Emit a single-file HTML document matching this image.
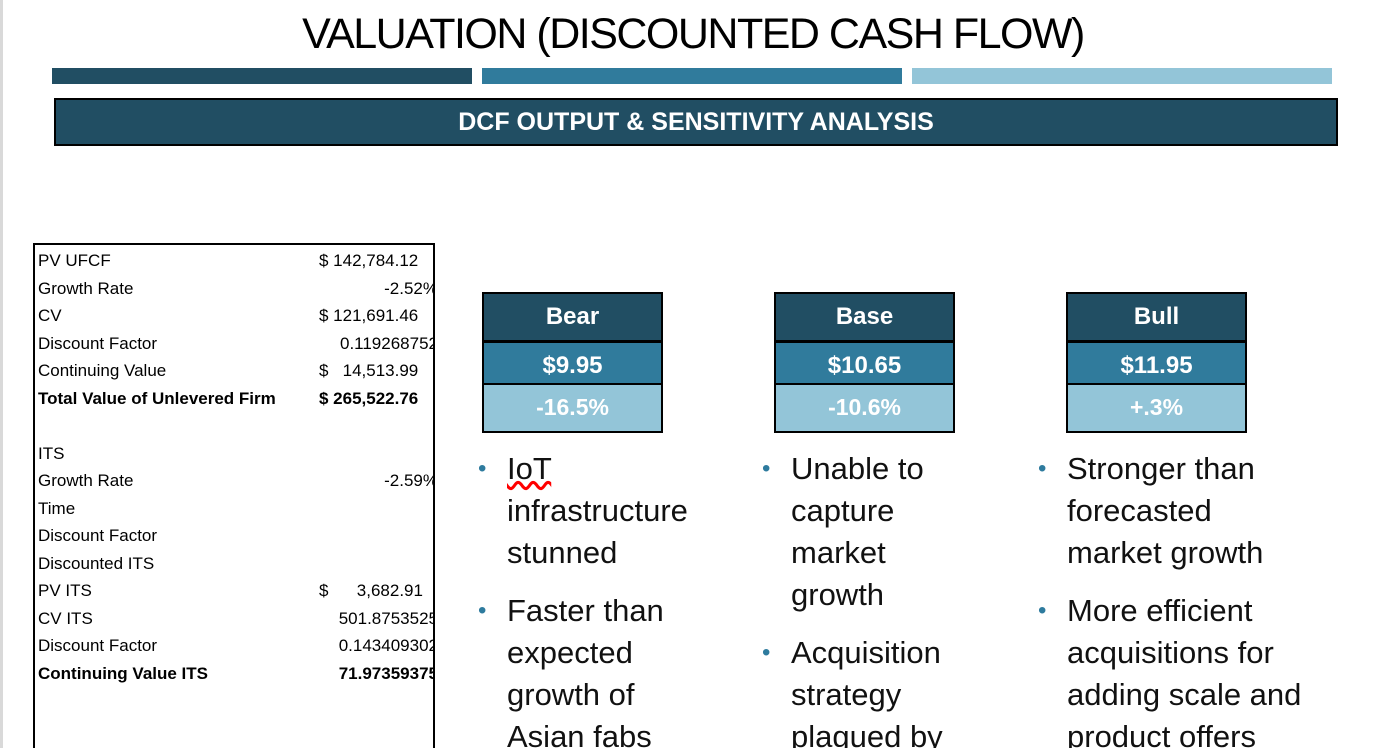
<!DOCTYPE html>
<html><head><meta charset="utf-8"><style>
*{margin:0;padding:0;box-sizing:border-box}
html,body{width:1374px;height:748px;overflow:hidden}
body{background:#fff;position:relative;font-family:"Liberation Sans",sans-serif}
.a{position:absolute}
.title{left:0;width:1386px;top:10px;text-align:center;font-size:43px;color:#000;letter-spacing:-1.5px}
.row{position:absolute;left:3px;width:397px;height:27.5px;font-size:17px;line-height:27.5px;white-space:nowrap}
.row .v{position:absolute;right:-3px;top:0}
.row .d{position:absolute;left:281px;top:0}
b{font-weight:bold}
.card{position:absolute;width:181px;height:141px;border:2px solid #000;top:292px;color:#fff;font-weight:bold;text-align:center}
.card div{height:45.7px;line-height:45px}
.h{background:#214e63;font-size:24px}
.m{background:#307b9c;font-size:24px;border-top:3px solid #000;border-bottom:2px solid #000}
.p{background:#93c5d8;font-size:23px}
.bl{position:absolute;font-size:31px;line-height:42px;color:#111}
.bl li{list-style:none;position:relative;margin-bottom:16px}
.bl li:before{content:"•";position:absolute;left:-29px;color:#2e7b9e;font-size:24px}
</style></head><body>
<div class="a" style="left:0;top:0;width:3px;height:748px;background:#d9d9d9"></div>
<div class="a title">VALUATION (DISCOUNTED CASH FLOW)</div>
<div class="a" style="left:52px;top:68px;width:420px;height:16px;background:#214e63"></div>
<div class="a" style="left:482px;top:68px;width:420px;height:16px;background:#307b9c"></div>
<div class="a" style="left:912px;top:68px;width:420px;height:16px;background:#93c5d8"></div>
<div class="a" style="left:54px;top:98px;width:1284px;height:48px;background:#214e63;border:2px solid #000;color:#fff;font-weight:bold;font-size:25px;text-align:center;line-height:44px">DCF OUTPUT &amp; SENSITIVITY ANALYSIS</div>

<div class="a" style="left:33px;top:243px;width:402px;height:505px;border:2px solid #000;border-bottom:none;overflow:hidden">
<div class="row" style="top:2px">PV UFCF<span class="d">$ 142,784.12</span></div>
<div class="row" style="top:29.5px">Growth Rate<span class="v">-2.52%</span></div>
<div class="row" style="top:57px">CV<span class="d">$ 121,691.46</span></div>
<div class="row" style="top:84.5px">Discount Factor<span class="v">0.119268752</span></div>
<div class="row" style="top:112px">Continuing Value<span class="d">$&nbsp;&nbsp;&nbsp;14,513.99</span></div>
<div class="row" style="top:139.5px"><b>Total Value of Unlevered Firm</b><span class="d"><b>$ 265,522.76</b></span></div>
<div class="row" style="top:194.5px">ITS</div>
<div class="row" style="top:222px">Growth Rate<span class="v">-2.59%</span></div>
<div class="row" style="top:249.5px">Time</div>
<div class="row" style="top:277px">Discount Factor</div>
<div class="row" style="top:304.5px">Discounted ITS</div>
<div class="row" style="top:332px">PV ITS<span class="d">$&nbsp;&nbsp;&nbsp;&nbsp;&nbsp;&nbsp;3,682.91</span></div>
<div class="row" style="top:359.5px">CV ITS<span class="v">501.8753525</span></div>
<div class="row" style="top:387px">Discount Factor<span class="v">0.143409302</span></div>
<div class="row" style="top:414.5px"><b>Continuing Value ITS</b><span class="v"><b>71.97359375</b></span></div>
<div class="row" style="top:497px">Enterprise value<span class="d">$ 269,205.67</span></div>
</div>

<div class="card" style="left:482px"><div class="h">Bear</div><div class="m">$9.95</div><div class="p">-16.5%</div></div>
<div class="card" style="left:774px"><div class="h">Base</div><div class="m">$10.65</div><div class="p">-10.6%</div></div>
<div class="card" style="left:1066px"><div class="h">Bull</div><div class="m">$11.95</div><div class="p">+.3%</div></div>

<div class="a" style="left:0;top:440px;width:1374px;height:308px;overflow:hidden">
<ul class="bl" style="left:507px;top:8px;width:200px"><li><span style="text-decoration:underline wavy red">IoT</span> infrastructure stunned</li><li>Faster than expected growth of Asian fabs</li></ul>
<ul class="bl" style="left:791px;top:8px;width:180px"><li>Unable to capture market growth</li><li>Acquisition strategy plagued by</li></ul>
<ul class="bl" style="left:1067px;top:8px;width:236px"><li>Stronger than forecasted market growth</li><li>More efficient acquisitions for adding scale and product offers</li></ul>
</div>
</body></html>
